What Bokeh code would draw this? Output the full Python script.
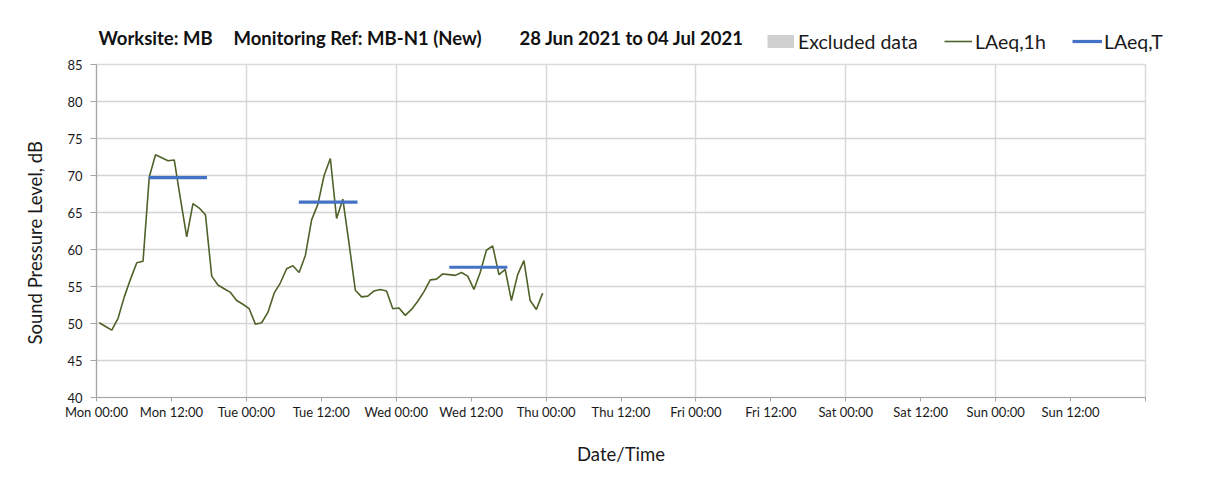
from bokeh.plotting import figure
from bokeh.models import FixedTicker, Label, Legend, LegendItem, ColumnDataSource, Range1d
from bokeh.embed import file_html
from bokeh.resources import INLINE

FONT = "Lato"

# ---- data -------------------------------------------------------------
# hourly LAeq,1h values (dB) from Mon 00:00 onwards
laeq_1h = [50.1, 49.6, 49.1, 50.7, 53.6, 56.0, 58.2, 58.4, 69.8, 72.8,
           72.4, 72.0, 72.1, 66.8, 61.7, 66.2, 65.6, 64.7, 56.4, 55.2,
           54.7, 54.2, 53.1, 52.6, 52.0, 49.9, 50.1, 51.5, 54.1, 55.5,
           57.4, 57.8, 56.9, 59.2, 64.0, 66.1, 70.0, 72.3, 64.2, 66.8,
           60.8, 54.5, 53.6, 53.7, 54.4, 54.6, 54.4, 52.0, 52.1, 51.1,
           51.9, 53.0, 54.3, 55.9, 56.0, 56.7, 56.6, 56.5, 56.9, 56.4,
           54.6, 56.9, 59.9, 60.5, 56.6, 57.3, 53.1, 56.6, 58.5, 53.1,
           51.9, 54.1]
first_hour = 0.45  # hours after Mon 00:00 of the first sample
hours = [first_hour + i for i in range(len(laeq_1h))]

# LAeq,T (daytime period) per day
laeq_t_start = [8.4, 32.4, 56.5]
laeq_t_end = [17.7, 41.8, 65.8]
laeq_t_value = [69.7, 66.4, 57.6]

tick_hours = list(range(0, 169, 12))
tick_labels = ["Mon 00:00", "Mon 12:00", "Tue 00:00", "Tue 12:00",
               "Wed 00:00", "Wed 12:00", "Thu 00:00", "Thu 12:00",
               "Fri 00:00", "Fri 12:00", "Sat 00:00", "Sat 12:00",
               "Sun 00:00", "Sun 12:00", ""]
grid_hours = list(range(0, 169, 24))
y_ticks = list(range(40, 86, 5))

title_parts = ["Worksite: MB", "Monitoring Ref: MB-N1 (New)",
               "28 Jun 2021 to 04 Jul 2021"]
legend_labels = ["Excluded data", "LAeq,1h", "LAeq,T"]

GREEN = "#4f6228"
BLUE = "#4472c4"
GREY = "#d0d0d0"
W = 1197
HEAD_H = 56
FRAME_L, FRAME_R = 96, 1145
NAN = float("nan")

# ---- header (title + legend), a separate root spanning the full width ----
head = figure(width=W, height=HEAD_H, output_backend="svg", toolbar_location=None,
              x_range=Range1d(0, W), y_range=Range1d(HEAD_H, 0),
              x_axis_type=None, y_axis_type=None,
              min_border_left=0, min_border_right=0, min_border_top=0,
              min_border_bottom=0)
head.grid.visible = False
head.outline_line_color = None
head.background_fill_color = "white"
head.border_fill_color = "white"

for txt, hx in zip(title_parts, (98, 233, 519)):
    head.add_layout(Label(x=hx, y=37, text=txt, text_font=FONT,
                          text_font_size="18.5px", text_font_style="bold",
                          text_color="#111111", text_baseline="middle"))

# legend-only renderers (nothing drawn)
h_excl = head.line([NAN], [NAN], line_color=GREY, line_width=13, line_cap="butt")
h_green = head.line([NAN], [NAN], line_color=GREEN, line_width=1.6)
h_blue = head.line([NAN], [NAN], line_color=BLUE, line_width=3.2)


def add_legend(label, rend, px, gw, standoff):
    lg = Legend(items=[LegendItem(label=label, renderers=[rend])],
                location=(px, HEAD_H - 53), orientation="horizontal",
                glyph_width=gw, glyph_height=24, label_height=24,
                label_standoff=standoff, padding=0, margin=0,
                border_line_alpha=0, background_fill_alpha=0,
                label_text_font=FONT, label_text_font_size="19.5px",
                label_text_color="#1a1a1a")
    head.add_layout(lg)


add_legend(legend_labels[0], h_excl, 767, 27, 4)
add_legend(legend_labels[1], h_green, 944, 28, 3)
add_legend(legend_labels[2], h_blue, 1072, 30, 2)

# ---- main chart -------------------------------------------------------
p = figure(width=W, height=482 - HEAD_H, output_backend="svg", toolbar_location=None,
           x_range=Range1d(0, 168), y_range=Range1d(40, 85),
           min_border_left=FRAME_L, min_border_right=W - FRAME_R,
           min_border_top=64 - HEAD_H, min_border_bottom=85)
p.background_fill_color = "white"
p.border_fill_color = "white"
p.outline_line_color = "#d9d9d9"
p.outline_line_width = 1.5

# excluded data: none in this period
p.quad(left=[], right=[], top=[], bottom=[], fill_color=GREY, line_color=None)
p.line(hours, laeq_1h, line_color=GREEN, line_width=1.6)
src_t = ColumnDataSource(dict(x0=laeq_t_start, x1=laeq_t_end, y=laeq_t_value))
p.segment(x0="x0", y0="y", x1="x1", y1="y", source=src_t,
          line_color=BLUE, line_width=3.2)

p.xaxis.ticker = FixedTicker(ticks=tick_hours)
p.xaxis.major_label_overrides = {h: l for h, l in zip(tick_hours, tick_labels)}
p.yaxis.ticker = FixedTicker(ticks=y_ticks)
for ax in (p.xaxis[0], p.yaxis[0]):
    ax.axis_line_color = "#a6a6a6"
    ax.axis_line_width = 1.2
    ax.major_tick_line_color = "#a6a6a6"
    ax.minor_tick_line_color = None
    ax.major_tick_in = 0
    ax.major_label_text_font = FONT
    ax.major_label_text_font_size = "13px"
    ax.major_label_text_color = "#1a1a1a"
    ax.axis_label_text_font = FONT
    ax.axis_label_text_font_size = "18.5px"
    ax.axis_label_text_font_style = "normal"
    ax.axis_label_text_color = "#1a1a1a"
p.xaxis.major_tick_out = 4
p.xaxis.major_label_standoff = 2
p.xaxis.axis_label = "Date/Time"
p.xaxis.axis_label_standoff = 20
p.yaxis.major_tick_out = 6
p.yaxis.major_label_standoff = 8
p.yaxis.axis_label = "Sound Pressure Level, dB" + "\u00a0" * 5
p.yaxis.axis_label_standoff = 18

p.xgrid.ticker = FixedTicker(ticks=grid_hours)
p.xgrid.grid_line_color = "#d9d9d9"
p.xgrid.grid_line_width = 1.5
p.ygrid.grid_line_color = "#d4d4d4"
p.ygrid.grid_line_width = 1.5

open("out.html", "w").write(file_html([head, p], INLINE))
